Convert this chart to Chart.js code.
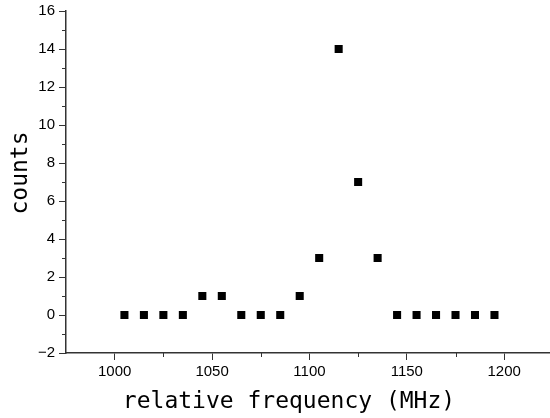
<!DOCTYPE html>
<html>
<head>
<meta charset="utf-8">
<script src="https://cdn.jsdelivr.net/npm/chart.js@4"></script>
<style>
  html, body { margin: 0; padding: 0; background: #fff; }
  #wrap { width: 550px; height: 418px; position: relative; }
</style>
</head>
<body>
<div id="wrap"><canvas id="chart"></canvas></div>
<script>
// data
const freqs = [1005, 1015, 1025, 1035, 1045, 1055, 1065, 1075, 1085, 1095,
               1105, 1115, 1125, 1135, 1145, 1155, 1165, 1175, 1185, 1195];
const counts = [0, 0, 0, 0, 1, 1, 0, 0, 0, 1,
                3, 14, 7, 3, 0, 0, 0, 0, 0, 0];
const xTickValues = [1000, 1050, 1100, 1150, 1200];
const yTickValues = [-2, 0, 2, 4, 6, 8, 10, 12, 14, 16];
const xMinorTicks = [1025, 1075, 1125, 1175];
const yMinorTicks = [-1, 1, 3, 5, 7, 9, 11, 13, 15];
const xTitle = 'relative frequency (MHz)';
const yTitle = 'counts';

const tickFont = { family: "'Liberation Sans Narrow', 'Liberation Sans', sans-serif", size: 15 };
const titleFont = "23px 'DejaVu Sans Mono', monospace";
const axisColor = '#333';

// small ticks between the labelled ones + axis titles
const extras = {
    id: 'extras',
    afterDraw(chart) {
        const ctx = chart.ctx;
        const xs = chart.scales.x, ys = chart.scales.y;
        const area = chart.chartArea;
        ctx.save();
        ctx.strokeStyle = axisColor;
        ctx.lineWidth = 1;
        ctx.beginPath();
        yMinorTicks.forEach(v => {
            const py = Math.round(ys.getPixelForValue(v)) + 0.5;
            ctx.moveTo(area.left - 4, py);
            ctx.lineTo(area.left, py);
        });
        xMinorTicks.forEach(v => {
            const px = Math.round(xs.getPixelForValue(v)) + 0.5;
            ctx.moveTo(px, area.bottom);
            ctx.lineTo(px, area.bottom + 4);
        });
        ctx.stroke();

        ctx.fillStyle = '#000';
        ctx.font = titleFont;
        ctx.textAlign = 'center';
        ctx.textBaseline = 'alphabetic';
        ctx.fillText(xTitle, 289, 408);
        ctx.translate(27, 173);
        ctx.rotate(-Math.PI / 2);
        ctx.fillText(yTitle, 0, 0);
        ctx.restore();
    }
};

new Chart(document.getElementById('chart'), {
    type: 'scatter',
    data: {
        datasets: [{
            label: 'counts',
            data: freqs.map((f, i) => ({ x: f, y: counts[i] })),
            pointStyle: 'rect',
            pointRadius: 5.7,
            pointHoverRadius: 5.7,
            pointBorderWidth: 0,
            backgroundColor: '#000',
            borderColor: '#000'
        }]
    },
    options: {
        responsive: true,
        maintainAspectRatio: false,
        animation: false,
        layout: { autoPadding: false, padding: { left: 0, top: 11, right: 1, bottom: 0 } },
        plugins: {
            legend: { display: false },
            tooltip: { enabled: false }
        },
        scales: {
            x: {
                type: 'linear',
                min: 975,
                max: 1223,
                afterBuildTicks: (scale) => { scale.ticks = xTickValues.map(v => ({ value: v })); },
                afterFit: (scale) => {
                    scale.height = 65;
                    scale.paddingLeft = 0;
                    scale.paddingRight = 0;
                },
                grid: {
                    drawOnChartArea: false,
                    drawTicks: true,
                    tickLength: 7,
                    color: axisColor
                },
                border: { display: true, color: axisColor, width: 1.5 },
                ticks: {
                    autoSkip: false,
                    maxRotation: 0,
                    padding: 3,
                    color: '#000',
                    font: tickFont,
                    callback: (v) => String(v)
                }
            },
            y: {
                min: -2,
                max: 16,
                afterBuildTicks: (scale) => { scale.ticks = yTickValues.map(v => ({ value: v })); },
                afterFit: (scale) => {
                    scale.width = 66;
                    scale.paddingTop = 0;
                    scale.paddingBottom = 0;
                },
                grid: {
                    drawOnChartArea: false,
                    drawTicks: true,
                    tickLength: 7,
                    color: axisColor
                },
                border: { display: true, color: axisColor, width: 1.5 },
                ticks: {
                    autoSkip: false,
                    padding: 4,
                    color: '#000',
                    font: tickFont,
                    callback: (v) => v < 0 ? '\u2212' + Math.abs(v) : String(v)
                }
            }
        }
    },
    plugins: [extras]
});
</script>
</body>
</html>
